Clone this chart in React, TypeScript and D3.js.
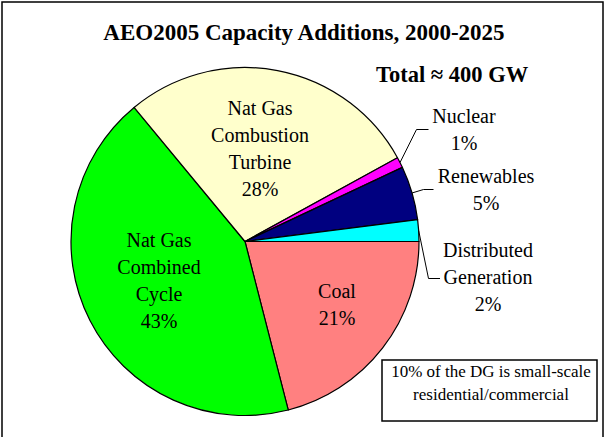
import React, { useEffect, useRef } from "react";
import * as d3 from "d3";

// capacity additions 2000-2025 (percent of total)
const categories = ["Coal", "Nat Gas Combined Cycle", "Nat Gas Combustion Turbine", "Nuclear", "Renewables", "Distributed Generation"];
const shares = [21, 43, 28, 1, 5, 2];
const colors = ["#ff8080", "#00ff00", "#ffffcc", "#ff00ff", "#000080", "#00ffff"];

const title = "AEO2005 Capacity Additions, 2000-2025";
const totalLabel = "Total \u2248 400 GW";
const noteLines = ["10% of the DG is small-scale", "residential/commercial"];

// label lines for each slice
const labelLines = [
  ["Coal", "21%"],
  ["Nat Gas", "Combined", "Cycle", "43%"],
  ["Nat Gas", "Combustion", "Turbine", "28%"],
  ["Nuclear", "1%"],
  ["Renewables", "5%"],
  ["Distributed", "Generation", "2%"]
];

const W = 605;
const H = 437;
const FONT = "'Liberation Serif', 'Times New Roman', serif";

export default function App() {
  const ref = useRef<SVGSVGElement>(null);

  useEffect(() => {
    const svg = d3.select(ref.current);
    svg.selectAll("*").remove();

    const cx = 245, cy = 241.5, r = 174;

    // outer frame
    svg.append("rect")
      .attr("x", 2).attr("y", 2)
      .attr("width", 601).attr("height", 460)
      .attr("fill", "white")
      .attr("stroke", "black")
      .attr("stroke-width", 1.5);

    svg.append("text")
      .attr("x", 304).attr("y", 40)
      .attr("text-anchor", "middle")
      .style("font-family", FONT)
      .style("font-weight", "bold")
      .style("font-size", "23px")
      .text(title);

    svg.append("text")
      .attr("x", 376).attr("y", 82)
      .style("font-family", FONT)
      .style("font-weight", "bold")
      .style("font-size", "22.5px")
      .text(totalLabel);

    const pie = d3.pie<number>()
      .sort(null)
      .startAngle(Math.PI / 2)
      .endAngle(Math.PI / 2 + 2 * Math.PI);
    const arcs = pie(shares);
    const arc = d3.arc<d3.PieArcDatum<number>>().innerRadius(0).outerRadius(r);

    const g = svg.append("g").attr("transform", `translate(${cx},${cy})`);
    g.selectAll("path")
      .data(arcs)
      .enter().append("path")
      .attr("d", arc)
      .attr("fill", (d, i) => colors[i])
      .attr("stroke", "black")
      .attr("stroke-width", 1.2)
      .attr("stroke-linejoin", "round");

    // inner labels (centre x, first baseline)
    const inner = [
      { i: 0, x: 337, y: 298 },
      { i: 1, x: 159, y: 246.5 },
      { i: 2, x: 260, y: 115 }
    ];
    // outer labels with leader lines: elbow point, end of horizontal, label pos
    const outer = [
      { i: 3, ex: 416.5, ey: 129.5, hx: 428.5, x: 464, y: 122.5 },
      { i: 4, ex: 423.5, ey: 189.5, hx: 433.5, x: 486, y: 183 },
      { i: 5, ex: 428.5, ey: 278.5, hx: 440, x: 488, y: 256.5 }
    ];
    const lh = 27;

    inner.forEach(l => {
      const t = svg.append("text")
        .attr("text-anchor", "middle")
        .style("font-family", FONT)
        .style("font-size", "20px");
      labelLines[l.i].forEach((s, k) => {
        t.append("tspan").attr("x", l.x).attr("y", l.y + k * lh).text(s);
      });
    });

    outer.forEach(l => {
      const a = arcs[l.i];
      const mid = (a.startAngle + a.endAngle) / 2;
      const sx = cx + r * Math.sin(mid);
      const sy = cy - r * Math.cos(mid);
      svg.append("polyline")
        .attr("points", `${sx},${sy} ${l.ex},${l.ey} ${l.hx},${l.ey}`)
        .attr("fill", "none")
        .attr("stroke", "black")
        .attr("stroke-width", 1);
      const t = svg.append("text")
        .attr("text-anchor", "middle")
        .style("font-family", FONT)
        .style("font-size", "20px");
      labelLines[l.i].forEach((s, k) => {
        t.append("tspan").attr("x", l.x).attr("y", l.y + k * lh).text(s);
      });
    });

    // note box
    svg.append("rect")
      .attr("x", 382).attr("y", 360)
      .attr("width", 215).attr("height", 61)
      .attr("fill", "white")
      .attr("stroke", "black")
      .attr("stroke-width", 1.5);
    const nt = svg.append("text")
      .attr("text-anchor", "middle")
      .style("font-family", FONT)
      .style("font-size", "17px");
    noteLines.forEach((s, k) => {
      nt.append("tspan").attr("x", 491).attr("y", 377 + k * 23).text(s);
    });
  }, []);

  return (
    <svg ref={ref} width={W} height={H}
      style={{ position: "absolute", left: 0, top: 0, background: "white" }} />
  );
}
